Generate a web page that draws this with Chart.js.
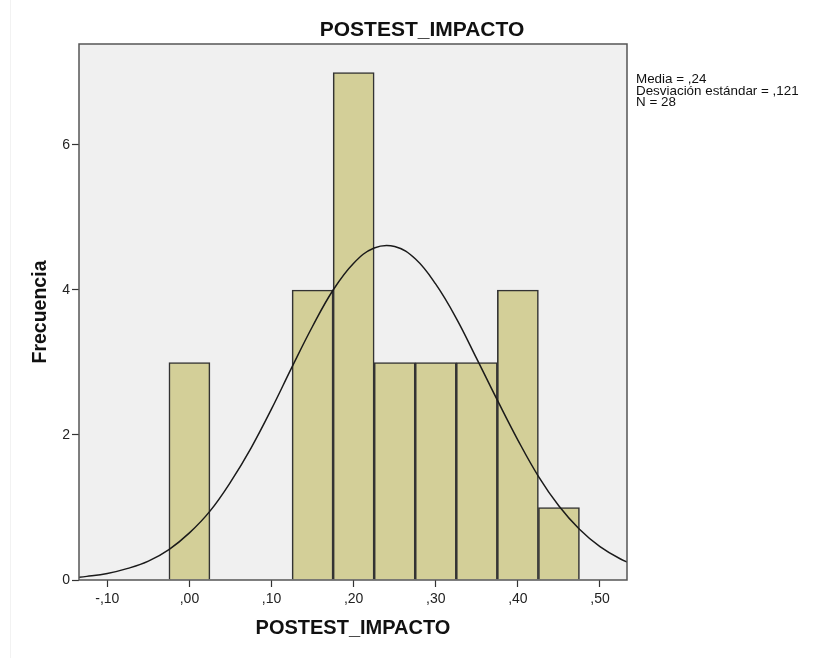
<!DOCTYPE html>
<html>
<head>
<meta charset="utf-8">
<title>POSTEST_IMPACTO</title>
<script src="https://cdn.jsdelivr.net/npm/chart.js@4"></script>
<style>
  html, body { margin: 0; padding: 0; background: #ffffff; }
  #wrap { position: relative; width: 825px; height: 658px; }
  canvas { display: block; }
</style>
</head>
<body>
<div id="wrap"><canvas id="histo" width="825" height="658"></canvas></div>
<script>
// --- DATA ---
const chartTitle = "POSTEST_IMPACTO";
const xAxisTitle = "POSTEST_IMPACTO";
const yAxisTitle = "Frecuencia";
const statLines = ["Media = ,24", "Desviación estándar = ,121", "N = 28"];

// bin centres (width ,05) and counts
const binCenters = [0.00, 0.15, 0.20, 0.25, 0.30, 0.35, 0.40, 0.45];
const binCounts  = [3, 4, 7, 3, 3, 3, 4, 1];

// normal curve
const curveX = [-0.15, -0.125, -0.10, -0.075, -0.05, -0.025, 0.00, 0.025, 0.05, 0.075, 0.10, 0.125, 0.15, 0.175, 0.20, 0.225, 0.25, 0.275, 0.30, 0.325, 0.35, 0.375, 0.40, 0.425, 0.45, 0.475, 0.50, 0.525, 0.55];
const curveY = [0.02, 0.05, 0.09, 0.16, 0.26, 0.42, 0.65, 0.95, 1.35, 1.82, 2.36, 2.94, 3.50, 4.00, 4.37, 4.58, 4.60, 4.43, 4.08, 3.61, 3.05, 2.48, 1.93, 1.43, 1.02, 0.70, 0.46, 0.29, 0.17];

// axis ticks
const xTickValues = [-0.10, 0.00, 0.10, 0.20, 0.30, 0.40, 0.50];
const xTickLabels = ["-,10", ",00", ",10", ",20", ",30", ",40", ",50"];
const yTickValues = [0, 2, 4, 6];
const yTickLabels = ["0", "2", "4", "6"];
const xRange = [-0.1345, 0.5329];
const yRange = [0, 7.393];

// --- STYLE ---
const FONT = "'Liberation Sans', Arial, Helvetica, sans-serif";
const PLOT_BG = '#f0f0f0';
const BAR_FILL = '#d3cf98';
const BAR_EDGE = '#333333';

// --- PLUGIN: plot background, frame and texts ---
const spssFrame = {
    id: 'spssFrame',
    beforeDraw(chart) {
        const { ctx, chartArea: a } = chart;
        ctx.save();
        ctx.fillStyle = PLOT_BG;
        ctx.fillRect(a.left, a.top, a.right - a.left, a.bottom - a.top);
        // faint outer frame line on the left
        ctx.strokeStyle = '#f2f2f2';
        ctx.lineWidth = 1;
        ctx.beginPath();
        ctx.moveTo(10.5, 0);
        ctx.lineTo(10.5, chart.height);
        ctx.stroke();
        ctx.restore();
    },
    afterDraw(chart) {
        const { ctx, chartArea: a } = chart;
        ctx.save();
        ctx.strokeStyle = '#555555';
        ctx.lineWidth = 1.5;
        ctx.strokeRect(a.left, a.top, a.right - a.left, a.bottom - a.top);

        ctx.fillStyle = '#111111';
        ctx.textAlign = 'center';
        ctx.textBaseline = 'alphabetic';
        ctx.font = 'bold 21px ' + FONT;
        ctx.fillText(chartTitle, 422, 36);

        ctx.textAlign = 'left';
        ctx.font = '13.4px ' + FONT;
        statLines.forEach((line, i) => {
            ctx.fillText(line, 636, 83 + i * 11.7);
        });
        ctx.restore();
    }
};

const ctx = document.getElementById('histo').getContext('2d');
new Chart(ctx, {
    type: 'bar',
    data: {
        datasets: [
            {
                type: 'line',
                label: 'Normal',
                data: curveX.map((x, i) => ({ x: x, y: curveY[i] })),
                borderColor: '#1a1a1a',
                borderWidth: 1.5,
                pointRadius: 0,
                tension: 0.4,
                fill: false,
                order: 0
            },
            {
                type: 'bar',
                label: 'Frecuencia',
                data: binCenters.map((x, i) => ({ x: x, y: binCounts[i] })),
                backgroundColor: BAR_FILL,
                borderColor: BAR_EDGE,
                borderWidth: 1.6,
                barPercentage: 1,
                categoryPercentage: 1,
                order: 1
            }
        ]
    },
    options: {
        responsive: false,
        animation: false,
        layout: { padding: { left: 0, right: 198, top: 44, bottom: 0 } },
        plugins: {
            legend: { display: false },
            tooltip: { enabled: false },
            title: { display: false }
        },
        scales: {
            x: {
                type: 'linear',
                min: xRange[0],
                max: xRange[1],
                offset: false,
                afterFit: (s) => { s.height = 78; },
                afterBuildTicks: (s) => { s.ticks = xTickValues.map(v => ({ value: v })); },
                ticks: {
                    autoSkip: false,
                    maxRotation: 0,
                    padding: 4,
                    color: '#222222',
                    font: { family: FONT, size: 14 },
                    callback: (v, i) => xTickLabels[i]
                },
                grid: {
                    offset: false,
                    drawOnChartArea: false,
                    drawTicks: true,
                    tickLength: 7,
                    tickColor: '#333333',
                    tickWidth: 1.2
                },
                border: { display: false },
                title: {
                    display: true,
                    text: xAxisTitle,
                    color: '#111111',
                    font: { family: FONT, size: 20, weight: 'bold' },
                    padding: { top: 0, bottom: 18 }
                }
            },
            y: {
                type: 'linear',
                min: yRange[0],
                max: yRange[1],
                afterFit: (s) => { s.width = 79; },
                afterBuildTicks: (s) => { s.ticks = yTickValues.map(v => ({ value: v })); },
                ticks: {
                    autoSkip: false,
                    padding: 2,
                    color: '#222222',
                    font: { family: FONT, size: 14 },
                    callback: (v, i) => yTickLabels[i]
                },
                grid: {
                    drawOnChartArea: false,
                    drawTicks: true,
                    tickLength: 7,
                    tickColor: '#333333',
                    tickWidth: 1.2
                },
                border: { display: false },
                title: {
                    display: true,
                    text: yAxisTitle,
                    color: '#111111',
                    font: { family: FONT, size: 19.5, weight: 'bold' },
                    padding: { top: 29, bottom: 0 }
                }
            }
        }
    },
    plugins: [spssFrame]
});
</script>
</body>
</html>
